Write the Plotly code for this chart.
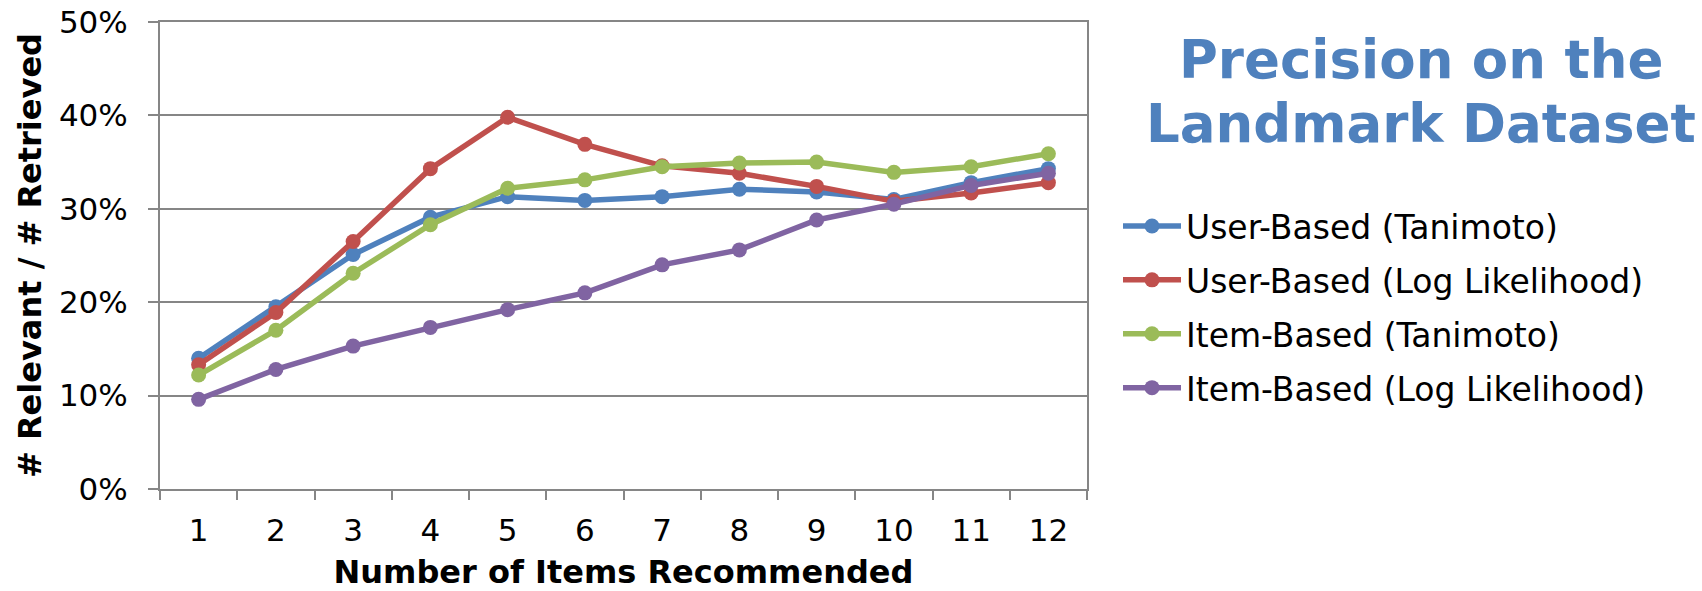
import plotly.graph_objects as go

categories = [str(i) for i in range(1, 13)]
user_tanimoto = [14.0, 19.5, 25.1, 29.1, 31.3, 30.9, 31.3, 32.1, 31.8, 31.0, 32.8, 34.3]
user_loglik = [13.3, 18.9, 26.5, 34.3, 39.8, 36.9, 34.6, 33.8, 32.4, 30.8, 31.7, 32.8]
item_tanimoto = [12.2, 17.0, 23.1, 28.3, 32.2, 33.1, 34.5, 34.9, 35.0, 33.9, 34.5, 35.9]
item_loglik = [9.6, 12.8, 15.3, 17.3, 19.2, 21.0, 24.0, 25.6, 28.8, 30.5, 32.5, 33.8]
series_names = ["User-Based (Tanimoto)", "User-Based (Log Likelihood)",
                "Item-Based (Tanimoto)", "Item-Based (Log Likelihood)"]
y_ticks = [0, 10, 20, 30, 40, 50]
y_tick_labels = ["0%", "10%", "20%", "30%", "40%", "50%"]
title_lines = ["Precision on the", "Landmark Dataset"]

colors = ["#4F81BD", "#C0504D", "#9BBB59", "#8064A2"]
series = [user_tanimoto, user_loglik, item_tanimoto, item_loglik]

W, H = 1702, 591
L, R, T, B = 160, 615, 22, 102
plot_h = H - T - B
plot_w = W - L - R

fig = go.Figure()
for i, (name, vals) in enumerate(zip(series_names, series)):
    fig.add_trace(go.Scatter(
        x=categories, y=vals, name=name, mode="lines+markers",
        line=dict(color=colors[i], width=5.5),
        marker=dict(color=colors[i], size=15),
        legendgroup=f"g{i}",
    ))

# title as two centred lines
for k, line in enumerate(title_lines):
    fig.add_annotation(
        text=f"<b>{line}</b>", xref="paper", yref="paper",
        x=(1421 - L) / plot_w, xanchor="center",
        y=1 - (60 + 64 * k - T) / plot_h, yanchor="middle",
        showarrow=False,
        font=dict(family="DejaVu Sans", size=53, color="#4F81BD"),
    )

axis_color = "#868686"
fig.update_layout(
    width=W, height=H,
    margin=dict(l=L, r=R, t=T, b=B, autoexpand=False),
    paper_bgcolor="white", plot_bgcolor="white",
    font=dict(family="DejaVu Sans", size=31, color="black"),
    showlegend=True,
    legend=dict(
        xref="container", yref="container",
        x=1118 / W, y=1 - 198 / H, xanchor="left", yanchor="top",
        font=dict(family="DejaVu Sans", size=33, color="black"),
        traceorder="grouped", tracegroupgap=8, itemwidth=58,
        bgcolor="rgba(0,0,0,0)",
    ),
    xaxis=dict(
        type="category", tickson="boundaries", range=[-0.5, 11.5],
        automargin=False,
        showline=True, linecolor=axis_color, linewidth=2, mirror=True,
        ticks="outside", ticklen=9, tickwidth=2, tickcolor=axis_color,
        showgrid=False, ticklabelstandoff=13,
        tickfont=dict(size=31),
        title=dict(text="<b>Number of Items Recommended</b>",
                   font=dict(family="DejaVu Sans", size=32), standoff=22),
    ),
    yaxis=dict(
        range=[0, 50], tickvals=y_ticks, ticktext=y_tick_labels,
        automargin=False,
        showline=True, linecolor=axis_color, linewidth=2, mirror=True,
        ticks="outside", ticklen=10, tickwidth=2, tickcolor=axis_color,
        showgrid=True, gridcolor=axis_color, gridwidth=2,
        zeroline=False, ticklabelstandoff=14,
        tickfont=dict(size=31),
        title=dict(text="<b># Relevant / # Retrieved</b>",
                   font=dict(family="DejaVu Sans", size=32), standoff=8),
    ),
)

fig.write_html("out.html")
